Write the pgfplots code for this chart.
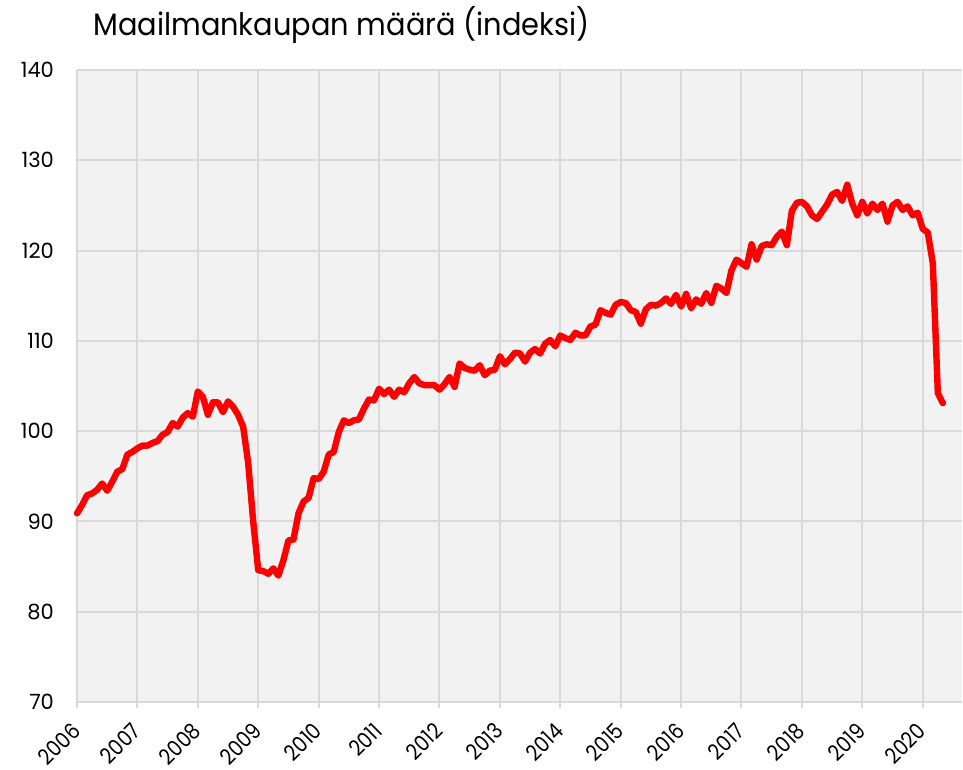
\documentclass[border=0pt]{standalone}
\usepackage{pgfplots}
\pgfplotsset{compat=1.18}
\usepackage{pgfplotstable}
\usepackage{fontspec}
\setmainfont{Poppins}
\newfontfamily\condensed{Poppins}[FakeStretch=0.88]
\newfontfamily\titlefont{Poppins}[FakeStretch=0.93]
\definecolor{gridgray}{HTML}{D9D9D9}
\definecolor{bggray}{HTML}{F2F2F2}
\pgfplotstableread{
v
90.9
91.8
92.9
93.1
93.5
94.2
93.4
94.4
95.5
95.8
97.4
97.7
98.1
98.4
98.4
98.7
98.9
99.6
99.9
100.9
100.5
101.5
102.0
101.6
104.4
103.8
101.8
103.2
103.2
102.1
103.3
102.7
101.8
100.5
96.5
90.0
84.6
84.5
84.2
84.8
84.0
85.7
87.9
88.0
90.9
92.2
92.6
94.8
94.7
95.5
97.4
97.7
99.9
101.2
100.9
101.2
101.3
102.5
103.5
103.4
104.7
104.1
104.6
103.8
104.6
104.3
105.3
106.0
105.3
105.1
105.1
105.1
104.6
105.2
106.0
104.9
107.5
107.0
106.8
106.7
107.3
106.2
106.7
106.8
108.3
107.4
108.0
108.7
108.6
107.7
108.7
109.1
108.6
109.7
110.1
109.4
110.6
110.3
110.1
110.9
110.6
110.6
111.6
111.8
113.4
113.1
112.9
114.0
114.3
114.2
113.4
113.2
111.9
113.5
114.0
113.9
114.2
114.7
114.1
115.1
113.8
115.2
113.6
114.6
114.1
115.3
114.2
116.1
115.8
115.3
117.8
119.0
118.6
118.2
120.7
119.0
120.5
120.7
120.6
121.5
122.1
120.6
124.4
125.3
125.4
124.9
123.9
123.5
124.3
125.1
126.2
126.5
125.5
127.3
125.2
123.9
125.4
124.1
125.2
124.5
125.2
123.2
125.0
125.4
124.5
124.9
123.9
124.2
122.4
122.0
118.6
104.2
103.1
}\tradedata
\begin{document}
\begin{tikzpicture}
\path (-38.5pt,-34pt) rectangle (443pt,351pt);
\begin{axis}[
  at={(0,0)}, anchor=south west,
  scale only axis,
  width=442.5pt, height=316pt,
  xmin=2006, xmax=2020.65,
  ymin=70, ymax=140,
  xtick={2006,2007,...,2020},
  ytick={70,80,...,140},
  /pgf/number format/assume math mode=true,
  /pgf/number format/1000 sep={},
  grid=major,
  major grid style={draw=gridgray, line width=1pt},
  axis background/.style={fill=bggray},
  axis line style={draw=none},
  xtick style={draw=gridgray, line width=1pt},
  ytick style={draw=none},
  major tick length=3pt,
  tick align=outside,
  xtick pos=bottom,
  ytick pos=left,
  xticklabel shift=9pt,
  xticklabel style={rotate=45, anchor=east, font=\condensed\fontsize{11}{13}\selectfont, inner sep=0.5pt},
  yticklabel style={font=\fontsize{10.5}{12}\selectfont, xshift=-5pt},
  clip=false,
]
\addplot[draw=red, line width=3.2pt, line join=round, line cap=round]
  table[x expr={2006+\coordindex/12}, y=v] {\tradedata};
\node[anchor=base west, font=\titlefont\fontsize{15.5}{18}\selectfont, inner sep=0pt] at (rel axis cs:0.018,1) [yshift=17.5pt] {Maailmankaupan määrä (indeksi)};
\end{axis}
\end{tikzpicture}
\end{document}
